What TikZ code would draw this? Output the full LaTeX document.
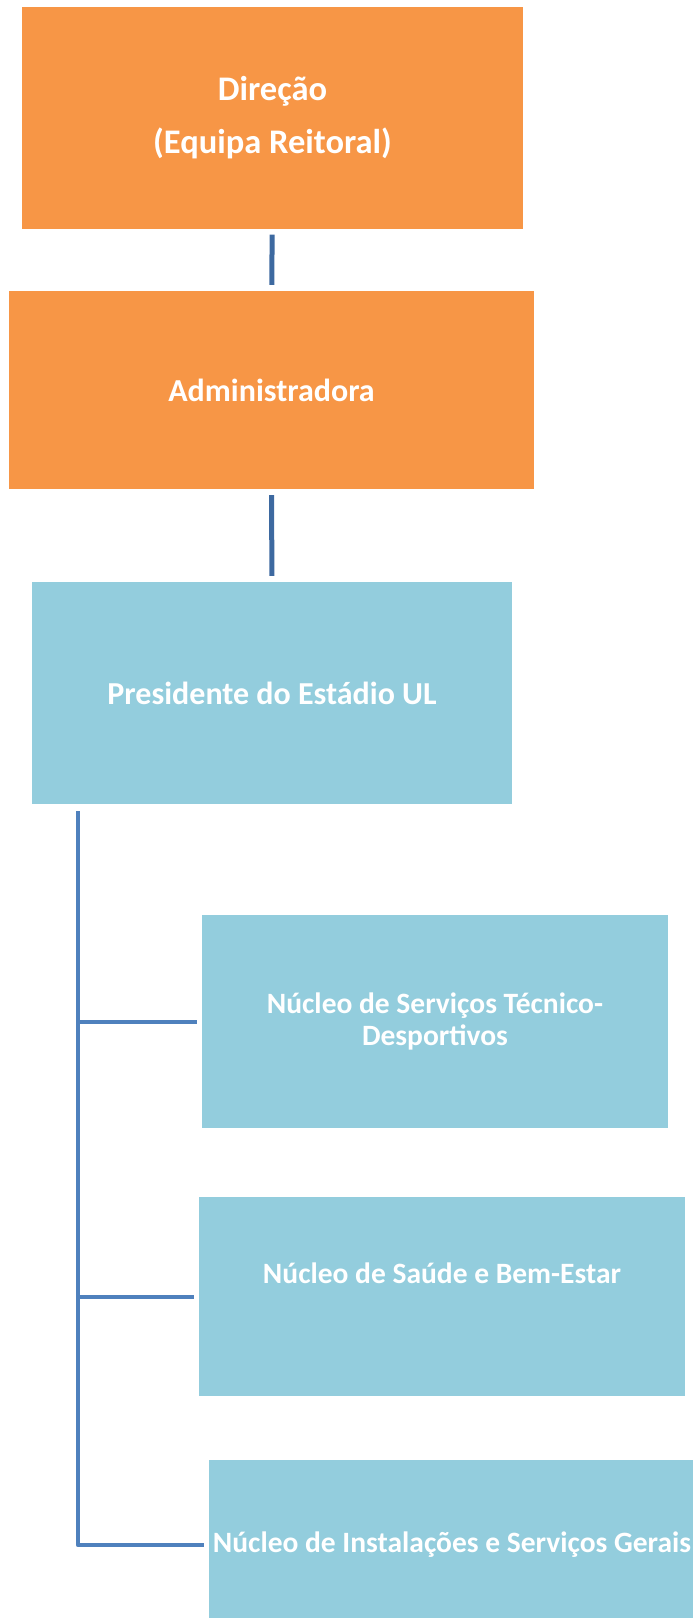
\documentclass[tikz,border=0pt]{standalone}
\usepackage{fontspec}
\setmainfont{Carlito}
\usepackage{tikz}
\usetikzlibrary{positioning}
\definecolor{laranja}{HTML}{F79646}
\definecolor{azulclaro}{HTML}{93CDDD}
\definecolor{linha}{HTML}{4F81BD}
\definecolor{linhaescura}{HTML}{3D69A0}

\begin{document}
\begin{tikzpicture}[x=1pt, y=-1pt,
	caixa/.style={fill=#1, inner sep=0pt, align=center, text=white, font=\bfseries\fontsize{29.5}{32}\selectfont},
	topo/.style={font=\bfseries\fontsize{32}{52}\selectfont},
	ligacao/.style={draw=linha, line width=4pt}]
\useasboundingbox (0,0) rectangle (693,1618);

\node[caixa=laranja, topo, font=\bfseries\fontsize{34.5}{53}\selectfont, minimum width=501pt, minimum height=222pt] (dir) at (272.5,117.5) {Direção\\(Equipa Reitoral)};
\node[caixa=laranja, topo, minimum width=525pt, minimum height=198pt] (adm) at (271.5,390) {Administradora};
\node[caixa=azulclaro, topo, minimum width=480pt, minimum height=222pt] (pres) at (272,693) {Presidente do Estádio UL};
\node[caixa=azulclaro, minimum width=466pt, minimum height=213pt] (tec) at (435,1021.5) {Núcleo de Serviços Técnico-\\Desportivos};
\node[caixa=azulclaro, minimum width=486pt, minimum height=199pt, text depth=47pt] (sau) at (442,1296.5) {Núcleo de Saúde e Bem-Estar};
\node[caixa=azulclaro, minimum width=486pt, minimum height=170pt] (ger) at (452,1545) {Núcleo de Instalações e Serviços Gerais};

\coordinate[right=46pt of pres.south west] (tronco);

\path[ligacao, draw=linhaescura, line width=5pt, shorten <=6pt, shorten >=6pt]
(dir) edge (adm)
(adm) edge (pres)
;
\draw[ligacao, line join=round] ([yshift=-7pt]tronco) -- (tronco |- ger.west) -- ([xshift=-5pt]ger.west);
\path[ligacao, shorten >=5pt]
(tronco |- tec.west) edge (tec.west)
(tronco |- sau.west) edge (sau.west)
;
\end{tikzpicture}
\end{document}
